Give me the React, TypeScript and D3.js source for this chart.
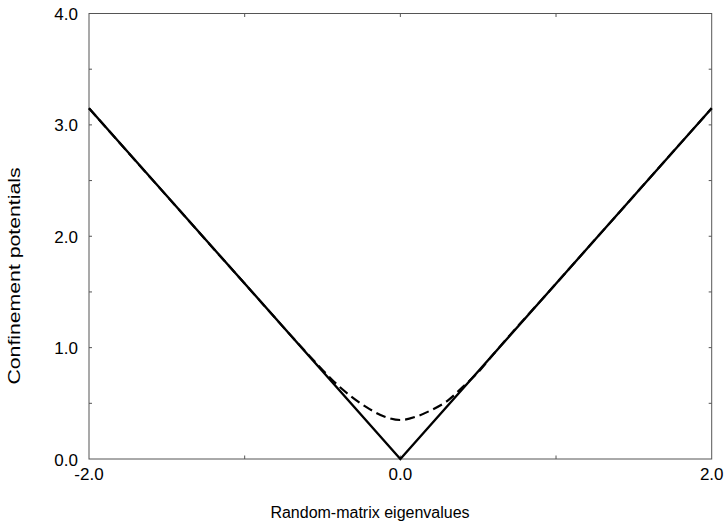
import React from 'react'
import * as d3 from 'd3'

// confinement potentials vs eigenvalue
const solidX = [-2.0, 0.0, 2.0]
const solidY = [3.15, 0.0, 3.15]

const dashX = [-2.0, -1.0, -0.6, -0.5, -0.4, -0.3, -0.2, -0.1, 0.0, 0.1, 0.2, 0.3, 0.4, 0.5, 0.6, 1.0, 2.0]
const dashY = [3.15, 1.575, 0.95, 0.8, 0.66, 0.545, 0.45, 0.38, 0.35, 0.38, 0.44, 0.52, 0.645, 0.78, 0.945, 1.575, 3.15]

const xTickVals = [-2.0, 0.0, 2.0]
const xMinorTicks = [-1.0, 0.0, 1.0]
const yTickVals = [0.0, 1.0, 2.0, 3.0, 4.0]
const yMinorTicks = [0.5, 1.0, 1.5, 2.0, 2.5, 3.0, 3.5]

const W = 724
const H = 524
const left = 89
const right = 711.7
const top = 13.5
const bottom = 459

const font = "'Liberation Sans', Arial, Helvetica, sans-serif"
// plain hyphen for negatives, like the original
const fmt = (v: number) => v.toFixed(1)

export default function App() {
  const x = d3.scaleLinear().domain([-2, 2]).range([left, right])
  const y = d3.scaleLinear().domain([0, 4]).range([bottom, top])

  const line = d3.line<[number, number]>()
    .x(d => x(d[0]))
    .y(d => y(d[1]))

  const solid = solidX.map((v, i) => [v, solidY[i]] as [number, number])
  const dashed = dashX.map((v, i) => [v, dashY[i]] as [number, number])
  const curve = d3.line<[number, number]>()
    .x(d => x(d[0]))
    .y(d => y(d[1]))
    .curve(d3.curveMonotoneX)

  return (
    <svg width={W} height={H} style={{ position: 'absolute', left: 0, top: 0, background: '#fff' }}>
      {/* frame */}
      <rect x={left} y={top} width={right - left} height={bottom - top}
        fill="none" stroke="#555" strokeWidth={1} />

      {/* y ticks, inward on both sides */}
      {yMinorTicks.map(t => (
        <g key={'yt' + t}>
          <line x1={left} x2={left + 3} y1={y(t)} y2={y(t)} stroke="#555" />
          <line x1={right} x2={right - 3} y1={y(t)} y2={y(t)} stroke="#555" />
        </g>
      ))}
      {/* x ticks, inward top and bottom */}
      {xMinorTicks.map(t => (
        <g key={'xt' + t}>
          <line x1={x(t)} x2={x(t)} y1={bottom} y2={bottom - 3.5} stroke="#555" />
          <line x1={x(t)} x2={x(t)} y1={top} y2={top + 3.5} stroke="#555" />
        </g>
      ))}

      {yTickVals.map(t => (
        <text key={'yl' + t} x={78} y={y(t) + 6.5} textAnchor="end"
          fontFamily={font} fontSize={17} fill="#000">{fmt(t)}</text>
      ))}
      {xTickVals.map(t => (
        <text key={'xl' + t} x={x(t)} y={479.5} textAnchor="middle"
          fontFamily={font} fontSize={17} fill="#000">{fmt(t)}</text>
      ))}

      <path d={line(solid) || ''} fill="none" stroke="#000" strokeWidth={2.3} />
      <path d={curve(dashed) || ''} fill="none" stroke="#000" strokeWidth={2.2}
        strokeDasharray="10,5" />

      <text x={370} y={518} textAnchor="middle" fontFamily={font} fontSize={16} fill="#000">
        Random-matrix eigenvalues
      </text>
      <text transform="translate(20,276) rotate(-90)" textAnchor="middle"
        fontFamily={font} fontSize={16} fill="#000"
        textLength={217} lengthAdjust="spacingAndGlyphs">
        Confinement potentials
      </text>
    </svg>
  )
}
